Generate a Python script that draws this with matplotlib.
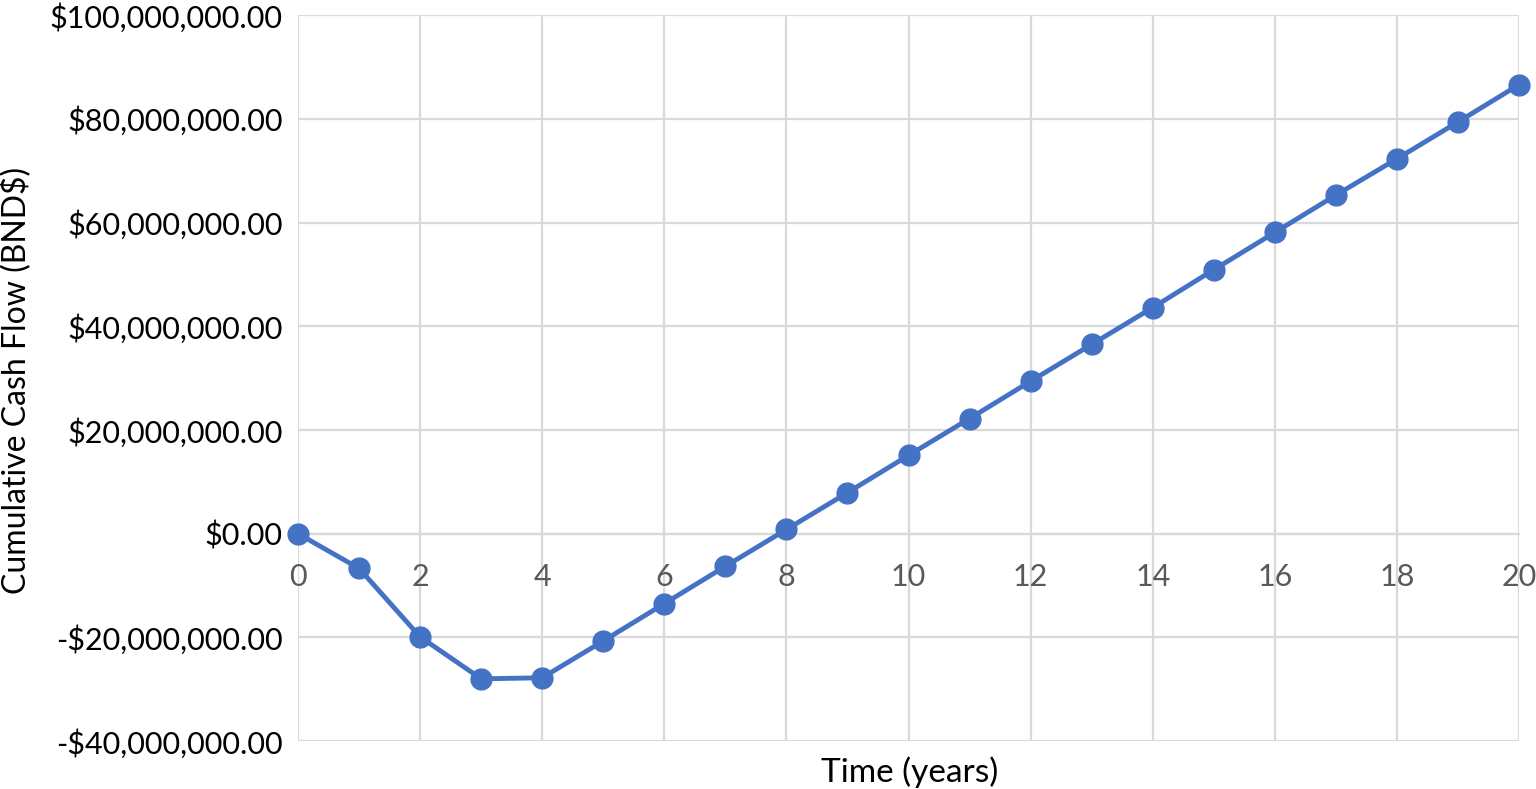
import matplotlib
matplotlib.use("Agg")
import matplotlib.pyplot as plt
from matplotlib.ticker import FuncFormatter, MultipleLocator

years = list(range(0, 21))
cumulative_cash_flow = [0.0, -6.7e6, -19.9e6, -28.0e6, -27.8e6, -20.7e6, -13.5e6,
                        -6.3e6, 0.8e6, 7.9e6, 15.1e6, 22.2e6, 29.4e6, 36.5e6,
                        43.6e6, 50.9e6, 58.1e6, 65.3e6, 72.3e6, 79.4e6, 86.6e6]
x_label = "Time (years)"
y_label = "Cumulative Cash Flow (BND$)"

plt.rcParams['font.family'] = ['Lato', 'DejaVu Sans']

W, H = 1536, 789
fig = plt.figure(figsize=(W / 100, H / 100), dpi=100)
ax = fig.add_axes([0.194, 0.0608, 0.795, 0.920])

ax.plot(years, cumulative_cash_flow, color='#4472C4', linewidth=3.5, marker='o',
        markersize=15, zorder=3, clip_on=False)

ax.set_xlim(0, 20)
ax.set_ylim(-40e6, 100e6)
ax.xaxis.set_major_locator(MultipleLocator(2))
ax.yaxis.set_major_locator(MultipleLocator(20e6))

def fmt(v, pos):
    if v < 0:
        return "-${:,.2f}".format(-v)
    return "${:,.2f}".format(v)

ax.yaxis.set_major_formatter(FuncFormatter(fmt))

ax.grid(True, color='#D9D9D9', linewidth=1.6, zorder=0)
for s in ['top', 'right', 'left']:
    ax.spines[s].set_visible(False)
ax.spines['bottom'].set_position(('data', 0))
ax.spines['bottom'].set_color('#D9D9D9')
ax.spines['bottom'].set_linewidth(1.6)
ax.set_axisbelow(True)

ax.tick_params(axis='x', length=0, pad=21, labelsize=22, labelcolor='#595959')
ax.tick_params(axis='y', length=0, pad=11, labelsize=22, labelcolor='black')

fig.text(910 / W, 1 - 772 / H, x_label, ha='center', va='center',
         fontsize=24, color='black')
fig.text(16 / W, 1 - 380 / H, y_label, rotation=90, ha='center', va='center',
         fontsize=23, color='black')

fig.savefig("out.png", dpi=100)
